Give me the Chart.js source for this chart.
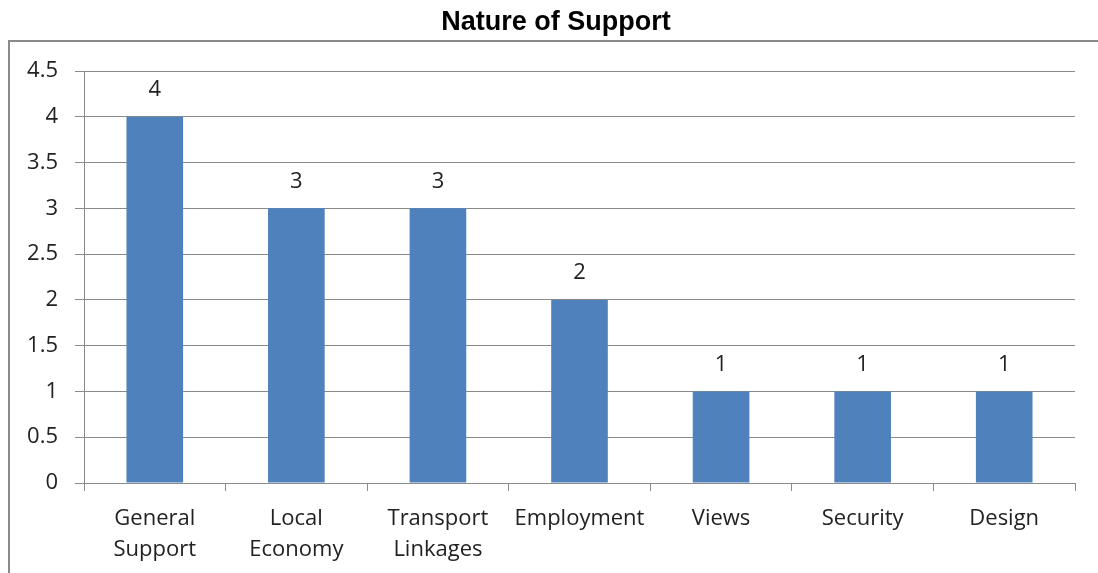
<!DOCTYPE html>
<html>
<head>
<meta charset="utf-8">
<script src="https://cdn.jsdelivr.net/npm/chart.js@4"></script>
<style>
  html, body { margin: 0; padding: 0; background: #fff; }
  #wrap { width: 1098px; height: 573px; position: relative; }
</style>
</head>
<body>
<div id="wrap"><canvas id="chart" width="1098" height="573"></canvas></div>
<script>
const categories = [['General', 'Support'], ['Local', 'Economy'], ['Transport', 'Linkages'], 'Employment', 'Views', 'Security', 'Design'];
const supportCounts = [4, 3, 3, 2, 1, 1, 1];
const yTicks = [0, 0.5, 1, 1.5, 2, 2.5, 3, 3.5, 4, 4.5];

const labelFont = "'Open Sans', sans-serif";

// outer frame + title + value labels
const decorations = {
  id: 'decorations',
  beforeDraw(chart) {
    const ctx = chart.ctx;
    ctx.save();
    ctx.strokeStyle = '#8a8a8a';
    ctx.lineWidth = 2;
    ctx.strokeRect(9, 41, 1100, 600);
    ctx.fillStyle = '#000';
    ctx.font = "bold 27px 'Liberation Sans', Arial, sans-serif";
    ctx.textAlign = 'center';
    ctx.textBaseline = 'middle';
    ctx.fillText('Nature of Support', 556, 23);
    ctx.restore();
  },
  afterDatasetsDraw(chart) {
    const ctx = chart.ctx;
    const meta = chart.getDatasetMeta(0);
    ctx.save();
    ctx.fillStyle = '#222';
    ctx.font = '22px ' + labelFont;
    ctx.textAlign = 'center';
    ctx.textBaseline = 'middle';
    meta.data.forEach((bar, i) => {
      ctx.fillText(String(supportCounts[i]), bar.x, bar.y - 27);
    });
    ctx.restore();
  }
};

new Chart(document.getElementById('chart'), {
  type: 'bar',
  data: {
    labels: categories,
    datasets: [{
      data: supportCounts,
      backgroundColor: '#4f81bd',
      borderWidth: 0,
      barPercentage: 0.4,
      categoryPercentage: 1
    }]
  },
  options: {
    responsive: false,
    animation: false,
    layout: { padding: { top: 71, right: 23, bottom: 0, left: 0 } },
    plugins: {
      legend: { display: false },
      title: { display: false },
      tooltip: { enabled: false }
    },
    scales: {
      x: {
        offset: true,
        afterFit: (scale) => { scale.height = 90; },
        grid: {
          offset: true,
          drawOnChartArea: false,
          drawTicks: true,
          tickLength: 8,
          color: '#8a8a8a'
        },
        border: { color: '#8a8a8a' },
        ticks: {
          color: '#222',
          padding: 12,
          font: { family: labelFont, size: 22, lineHeight: '31px' },
          maxRotation: 0,
          autoSkip: false
        }
      },
      y: {
        min: 0,
        max: 4.5,
        afterFit: (scale) => { scale.width = 84; },
        afterBuildTicks: (scale) => { scale.ticks = yTicks.map(v => ({ value: v })); },
        grid: { color: '#8a8a8a', tickLength: 9 },
        border: { color: '#8a8a8a' },
        ticks: {
          color: '#222',
          padding: 17,
          font: { family: labelFont, size: 22 },
          callback: (v) => String(v)
        }
      }
    }
  },
  plugins: [decorations]
});
</script>
</body>
</html>
